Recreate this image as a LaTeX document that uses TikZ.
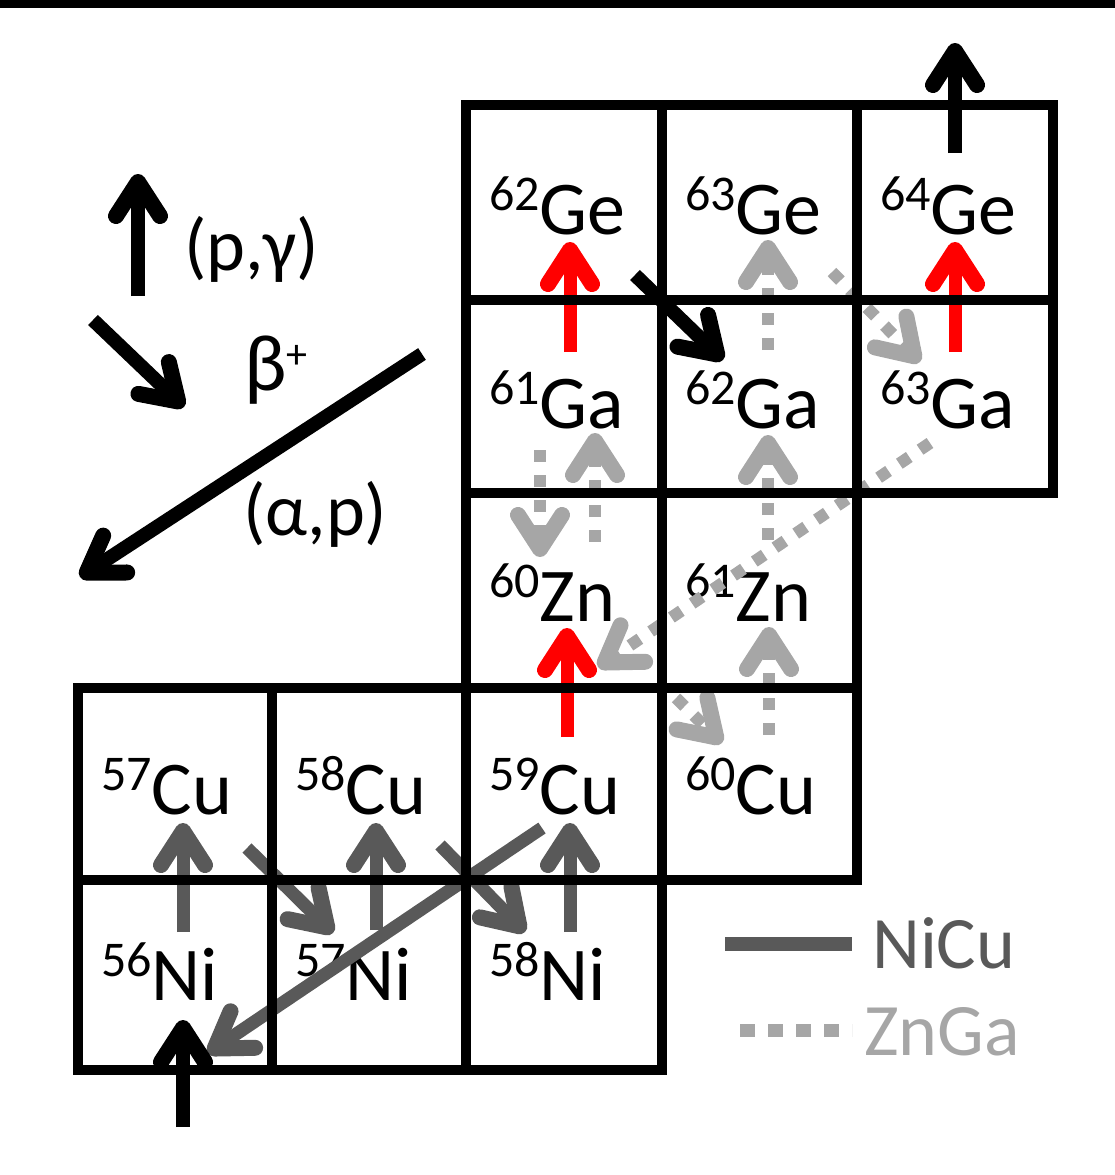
\documentclass[tikz,border=0pt]{standalone}
\usepackage{fontspec}
\setmainfont{Carlito}
\usetikzlibrary{arrows.meta,calc}
\definecolor{nicu}{HTML}{595959}
\definecolor{znga}{HTML}{A6A6A6}
\definecolor{rpred}{HTML}{FF0000}
\newcommand{\iso}[2]{\raisebox{24pt}{\fontsize{50}{52}\selectfont #1}#2}
\tikzset{
  cell/.style={rectangle, inner sep=0pt, outer sep=0pt, draw=none},
  isotxt/.style={anchor=base west, inner sep=0pt, font=\fontsize{76}{82}\selectfont},
  legtxt/.style={anchor=base west, inner sep=0pt, font=\fontsize{74}{80}\selectfont},
  gridline/.style={line width=10pt, draw=black},
  barbtip/.style={-{Straight Barb[length=34pt,width=44pt,round,line width'=16pt]}},
  redarrow/.style={barbtip, line width=13pt, draw=rpred},
  blackarrow/.style={barbtip, line width=14pt, draw=black},
  nicuarrow/.style={barbtip, line width=13pt, draw=nicu},
  zngaarrow/.style={barbtip, line width=12pt, draw=znga, dash pattern=on 12pt off 13pt},
}
\newcommand{\nuc}[8]{%
  \node[cell, minimum width={(#4-#2)*1pt}, minimum height={(#5-#3)*1pt}] (#1) at ({(#2+#4)/2},{(#3+#5)/2}) {};
  \node[isotxt] (#1-t) at ({#2+23},#6) {\iso{#7}{#8}};
}
\begin{document}
\begin{tikzpicture}[x=1pt,y=-1pt]
\useasboundingbox (0,0) rectangle (1115,1175);
\fill[black] (0,0) rectangle (1115,8);
% cells and labels
\nuc{ge62}{466}{105}{662}{300}{234}{62}{Ge}
\nuc{ge63}{662}{105}{857}{300}{234}{63}{Ge}
\nuc{ge64}{857}{105}{1053}{300}{234}{64}{Ge}
\nuc{ga61}{466}{300}{662}{493}{428}{61}{Ga}
\nuc{ga62}{662}{300}{857}{493}{428}{62}{Ga}
\nuc{ga63}{857}{300}{1053}{493}{428}{63}{Ga}
\nuc{zn60}{466}{493}{662}{688}{621}{60}{Zn}
\nuc{zn61}{662}{493}{857}{688}{621}{61}{Zn}
\nuc{cu57}{78}{688}{272}{880}{814}{57}{Cu}
\nuc{cu58}{272}{688}{466}{880}{814}{58}{Cu}
\nuc{cu59}{466}{688}{662}{880}{814}{59}{Cu}
\nuc{cu60}{662}{688}{857}{880}{814}{60}{Cu}
\nuc{ni56}{78}{880}{272}{1070}{1000}{56}{Ni}
\nuc{ni57}{272}{880}{466}{1070}{1000}{57}{Ni}
\nuc{ni58}{466}{880}{662}{1070}{1000}{58}{Ni}

% legend (top left)
\coordinate (pgS) at (138,296);
\coordinate (pgE) at (138,174);
\coordinate (btS) at (93,320);
\coordinate (btE) at (184,407);
\coordinate (apS) at (422,354);
\coordinate (apE) at (80,577);
\draw[blackarrow] (pgS) -- (pgE);
\draw[blackarrow] (btS) -- (btE);
\draw[blackarrow] (apS) -- (apE);
\node[legtxt] (lpg) at (184,270) {(p,γ)};
\node[legtxt] (lbeta) at (244,390) {\fontsize{80}{84}\selectfont β\raisebox{22pt}{\fontsize{42}{42}\selectfont +}};
\node[legtxt] (lap) at (243,535) {(α,p)};

% ZnGa (light grey, dashed)
\draw[zngaarrow] ($(zn60.center)+(31,-48.5)$) -- ($(ga61.center)+(31,36.5)$);
\draw[zngaarrow] ($(ga61.center)+(-24,53.5)$) -- ($(zn60.center)+(-24,-33.5)$);
\draw[zngaarrow] ($(zn61.center)+(8.5,-50.5)$) -- ($(ga62.center)+(8.5,38.5)$);
\draw[zngaarrow] ($(ga62.center)+(8.5,-46.5)$) -- ($(ge63.center)+(8.5,37.5)$);
\draw[zngaarrow] ($(ge63.center)+(72.5,69.5)$) -- ($(ga63.center)+(-35,-34.5)$);
\draw[zngaarrow] ($(cu60.center)+(9.5,-49)$) -- ($(zn61.center)+(9.5,36.5)$);
\draw[zngaarrow] ($(zn60.center)+(112,107.5)$) -- ($(cu60.center)+(-37.5,-41)$);
\draw[zngaarrow] ($(ga63.center)+(-25,46.5)$) -- ($(zn60.center)+(34,76.5)$);

% NiCu (dark grey)
\draw[nicuarrow] ($(ni56.center)+(8,-43)$) -- ($(cu57.center)+(8,39)$);
\draw[nicuarrow] ($(cu57.center)+(72,64)$) -- ($(ni57.center)+(-36,-42)$);
\draw[nicuarrow] ($(ni57.center)+(7,-45)$) -- ($(cu58.center)+(7,39)$);
\draw[nicuarrow] ($(cu58.center)+(71,61)$) -- ($(ni58.center)+(-39,-43)$);
\draw[nicuarrow] ($(ni58.center)+(6,-43)$) -- ($(cu59.center)+(6,39)$);
\draw[nicuarrow] ($(cu59.center)+(-22,44)$) -- ($(ni56.center)+(33,78)$);

% red (p,gamma)
\draw[redarrow] ($(ga61.center)+(6,-44.5)$) -- ($(ge62.center)+(6,39.5)$);
\draw[redarrow] ($(ga63.center)+(0,-44.5)$) -- ($(ge64.center)+(0,39.5)$);
\draw[redarrow] ($(cu59.center)+(3,-47)$) -- ($(zn60.center)+(3,37.5)$);

% black arrows
\coordinate (outtop) at (955,43);
\coordinate (inbot) at (183,1127);
\draw[blackarrow] ($(ge64.center)+(0,-49.5)$) -- (outtop);
\draw[blackarrow] ($(ge62.center)+(71,72.5)$) -- ($(ga62.center)+(-36.5,-36.5)$);
\draw[blackarrow] (inbot) -- ($(ni56.center)+(8,45)$);

% grid borders
\foreach \c in {ge62,ge63,ge64,ga61,ga62,ga63,zn60,zn61,cu57,cu58,cu59,cu60,ni56,ni57,ni58}
  \draw[gridline] (\c.north west) rectangle (\c.south east);

% legend (bottom right)
\coordinate (nlS) at (725,944);
\coordinate (nlE) at (852,944);
\coordinate (zlS) at (740,1030);
\coordinate (zlE) at (852,1030);
\draw[line width=14pt, draw=nicu] (nlS) -- (nlE);
\draw[line width=13pt, draw=znga, dash pattern=on 15pt off 13pt] (zlS) -- (zlE);
\node[legtxt, text=nicu] (lnicu) at (872,968) {NiCu};
\node[legtxt, text=znga] (lznga) at (864,1055) {ZnGa};
\end{tikzpicture}
\end{document}
